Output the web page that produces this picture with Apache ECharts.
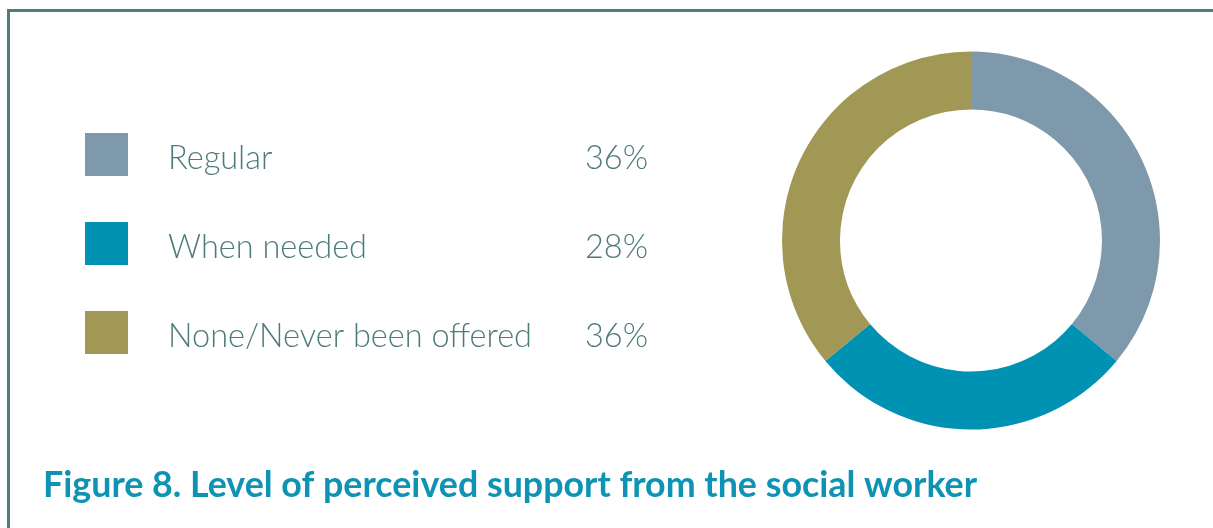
<!DOCTYPE html>
<html>
<head>
<meta charset="utf-8">
<script src="https://cdn.jsdelivr.net/npm/echarts@6/dist/echarts.min.js"></script>
<style>
  html, body { margin: 0; padding: 0; background: #ffffff; }
  #chart { width: 1213px; height: 528px; }
</style>
</head>
<body>
<div id="chart"></div>
<script>
// Support levels and their shares (percent)
const categories = ['Regular', 'When needed', 'None/Never been offered'];
const shares = [36, 28, 36];
const colors = ['#7d99ab', '#0092b3', '#a19855'];
const titleText = 'Figure 8. Level of perceived support from the social worker';

const frameColor = '#4e7e7c';
const labelColor = '#4d7b7a';

const chart = echarts.init(document.getElementById('chart'));

const pieData = categories.map((name, i) => ({
  name: name,
  value: shares[i],
  itemStyle: { color: colors[i] }
}));

chart.setOption({
  animation: false,
  title: {
    text: titleText,
    left: 43,
    top: 467,
    padding: 0,
    textStyle: {
      fontFamily: 'Lato',
      fontWeight: 'bold',
      fontSize: 35.8,
      color: '#0e93b4'
    }
  },
  legend: {
    orient: 'vertical',
    left: 85,
    top: 133,
    padding: 0,
    itemWidth: 43,
    itemHeight: 43,
    itemGap: 46,
    icon: 'rect',
    selectedMode: false,
    data: categories,
    formatter: function (name) {
      const i = categories.indexOf(name);
      return '{n|' + name + '}{p|' + shares[i] + '%}';
    },
    textStyle: {
      padding: [8, 0, 0, 35],
      rich: {
        n: {
          width: 420,
          fontFamily: 'Lato',
          fontWeight: 300,
          fontSize: 32.5,
          color: labelColor
        },
        p: {
          width: 60,
          align: 'right',
          fontFamily: 'Lato',
          fontWeight: 300,
          fontSize: 32.5,
          color: labelColor
        }
      }
    }
  },
  series: [{
    type: 'pie',
    center: [971, 240.5],
    radius: [131, 189],
    startAngle: 90,
    clockwise: true,
    label: { show: false },
    labelLine: { show: false },
    silent: true,
    data: pieData
  }],
  graphic: [
    {
      type: 'line',
      shape: { x1: 7, y1: 10.5, x2: 1213, y2: 10.5 },
      style: { stroke: frameColor, lineWidth: 3 }
    },
    {
      type: 'line',
      shape: { x1: 8.5, y1: 9, x2: 8.5, y2: 528 },
      style: { stroke: frameColor, lineWidth: 3 }
    }
  ]
});
</script>
</body>
</html>
